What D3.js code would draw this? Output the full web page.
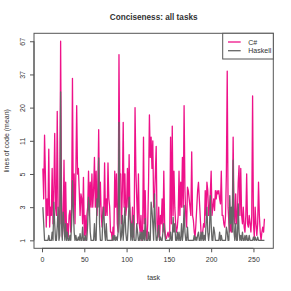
<!DOCTYPE html>
<html>
<head>
<meta charset="utf-8">
<script src="https://cdn.jsdelivr.net/npm/d3@7"></script>
<style>
  html, body { margin: 0; padding: 0; background: #fff; }
  svg { display: block; }
  text { font-family: "Liberation Sans", Arial, Helvetica, sans-serif; fill: #333; }
</style>
</head>
<body>
<svg id="chart" width="291" height="291"></svg>
<script>
// ---- data ----
const seriesNames = ["C#", "Haskell"];
const xTickValues = [0, 50, 100, 150, 200, 250];
const yTickValues = [1, 3, 5, 11, 20, 37, 67];

const csharp = [
  6, 3.5, 12.5, 5, 1.8, 3.5, 2.5, 9.5, 1.8, 3,
  2.5, 6, 2, 4, 13, 3, 2.5, 19, 3, 2.5,
  2, 67, 4, 1.2, 2, 7.5, 1.5, 4.5, 1.3, 2,
  1.2, 2.5, 2.8, 1.5, 3, 35, 3, 5, 2, 5,
  21, 5, 6, 4, 2.5, 3.8, 3.5, 2, 4.8, 1.3,
  2.5, 1, 2.5, 3, 5.5, 2.5, 4.5, 3, 5, 3,
  4, 8, 3, 5.5, 2.5, 4, 14, 3, 4.5, 2.5,
  1.8, 3, 2.5, 7, 2.5, 3.5, 2.5, 7, 3.5, 3,
  1.5, 1.5, 1, 1.8, 1.3, 5.5, 3, 5, 2, 1.5,
  55, 5, 5, 2, 4, 16, 3, 5, 2.5, 3,
  6, 3, 8.5, 2.5, 2, 1.5, 3, 1.2, 2, 20,
  5.5, 3.5, 2, 5, 2, 1.5, 2.5, 1, 1.5, 12,
  2, 4, 1.5, 1, 2, 4.5, 18, 8, 12, 6,
  11, 3, 3.5, 5, 10, 2, 1.2, 3, 1, 2.5,
  2, 3.5, 1.5, 5.5, 2, 1.2, 1.1, 1.3, 1.5, 1.2,
  1.3, 12, 2, 15, 2.5, 5.5, 3, 2, 1.5, 1.8,
  2.5, 5.5, 2.5, 4.5, 3, 8, 3, 21, 4, 2.5,
  1.8, 4.2, 4, 3.5, 3, 2.5, 9, 2.5, 2.2, 1.5,
  1.2, 2, 3, 4, 4.5, 3.5, 2.5, 1.5, 1.3, 1.5,
  2, 1.8, 4, 2.5, 4.5, 4, 2.5, 3, 3.8, 5.5,
  2.5, 3, 3.5, 2.8, 4, 3.5, 4, 3.8, 4, 3.5,
  3.2, 5.5, 2.5, 2.5, 2, 1.8, 2.5, 5, 40, 3,
  2, 1.5, 2, 1.5, 2.5, 12, 2.5, 2, 3.8, 2,
  2.5, 4.5, 6.5, 2.5, 6, 2.5, 2, 3, 1.8, 1.5,
  2.5, 5, 2, 1.8, 2.5, 2, 1.5, 2.5, 26, 2,
  1.2, 3, 2, 1.3, 2, 4.5, 2.5, 1.5, 1, 1.5,
  1.8, 1.5, 2.3
];

const haskell = [
  3, 2, 1, 1, 1, 1, 1, 1.3, 1, 1,
  1, 1.5, 1, 3.3, 2, 1, 1, 1.8, 3, 1,
  1.3, 28, 2, 1, 2.7, 2, 1, 2, 1, 1.5,
  1, 1, 1.3, 1, 2, 4.6, 3, 1.5, 1, 1.3,
  1, 1, 1.2, 1, 1.4, 1, 1, 1.8, 1, 1,
  1.3, 1, 1, 2, 3.6, 3, 1.5, 1, 1, 1,
  1, 2, 1, 1, 3.5, 3, 7.9, 2, 1, 1,
  1, 2.5, 3, 1.5, 1, 2, 1, 1, 1, 1,
  1, 1, 1, 1.3, 1, 1.3, 1, 1.2, 1, 1.5,
  16, 2, 1, 1.3, 2.5, 1, 2, 3, 1.5, 1,
  1, 2, 3.6, 2.7, 1, 2, 1, 2.5, 1, 1,
  1, 2, 1.5, 1, 1, 1.5, 1, 1.5, 1, 1.6,
  1, 2.3, 1, 1, 1, 1.5, 1, 1, 3.3, 2.8,
  2, 1, 3.8, 2, 1, 1, 1.5, 1.9, 1, 1.2,
  1, 1, 1.5, 2, 1.5, 1, 1, 1, 1, 1,
  1, 1.5, 1, 1, 2.4, 1.5, 2, 1, 1, 1.5,
  1, 1.5, 1, 1, 2, 1, 1.5, 3.1, 1.5, 1,
  1, 1.8, 1, 1, 1, 1, 1, 1, 1, 1.3,
  1, 1.2, 1, 1.3, 1.5, 1, 1, 1.5, 1, 1.5,
  1, 1.3, 1, 2, 3, 1.5, 1, 1.5, 3.7, 2,
  1, 1, 1.8, 1.5, 1, 1, 1, 1, 1, 1.5,
  1, 1.3, 1, 1, 1, 1, 1, 1.8, 1.5, 1,
  1, 3.7, 2, 3, 1.5, 7.5, 1.5, 1, 2, 1,
  1, 3.2, 1.5, 1, 1.3, 1, 1.5, 1, 1, 1.3,
  1, 1.3, 1, 1, 1.3, 1, 1, 1, 1, 1.2,
  1, 1.2, 1, 1, 1.2, 1, 1, 1, 1, 1,
  1, 1, 1
];

const colors = ["#EE1289", "#666666"];

// ---- layout ----
const svg = d3.select("#chart");
const plot = { left: 34, right: 273.3, top: 33.3, bottom: 248.3 };
const nTasks = csharp.length;
const xPad = (nTasks - 1) * 0.04;

const x = d3.scaleLinear()
  .domain([1 - xPad, nTasks + xPad])
  .range([plot.left, plot.right]);

// equally spaced tick labels on the y axis (piecewise scale through the tick values)
const tickPos = d3.scaleLinear()
  .domain([-0.24, yTickValues.length - 1 + 0.24])
  .range([plot.bottom, plot.top]);
const y = d3.scaleLinear()
  .domain(yTickValues)
  .range(yTickValues.map((d, i) => tickPos(i)));

// ---- lines ----
const line = d3.line()
  .x((d, i) => x(i + 1))
  .y(d => y(d));

[csharp, haskell].forEach((s, k) => {
  svg.append("path")
    .datum(s)
    .attr("fill", "none")
    .attr("stroke", colors[k])
    .attr("stroke-width", 1.3)
    .attr("stroke-linejoin", "round")
    .attr("d", line);
});

// ---- box ----
svg.append("rect")
  .attr("x", plot.left).attr("y", plot.top)
  .attr("width", plot.right - plot.left).attr("height", plot.bottom - plot.top)
  .attr("fill", "none").attr("stroke", "#555").attr("stroke-width", 1);

// ---- x axis ----
const xAxis = svg.append("g")
  .attr("transform", `translate(0,${plot.bottom})`)
  .call(d3.axisBottom(x).tickValues(xTickValues).tickSize(4).tickPadding(4.5).tickFormat(d3.format("d")));
xAxis.select(".domain").remove();
xAxis.append("line")
  .attr("x1", x(xTickValues[0])).attr("x2", x(xTickValues[xTickValues.length - 1]))
  .attr("y1", 0).attr("y2", 0).attr("stroke", "#555");
xAxis.selectAll(".tick line").attr("stroke", "#555");
xAxis.selectAll("text").style("font-size", "7px").attr("fill", "#333")
  .style("font-family", "'Liberation Sans', Arial, Helvetica, sans-serif");

// ---- y axis ----
const yAxis = svg.append("g")
  .attr("transform", `translate(${plot.left},0)`)
  .call(d3.axisLeft(y).tickValues(yTickValues).tickSize(4).tickFormat(d3.format("d")));
yAxis.select(".domain").remove();
yAxis.append("line")
  .attr("x1", 0).attr("x2", 0)
  .attr("y1", y(yTickValues[0])).attr("y2", y(yTickValues[yTickValues.length - 1]))
  .attr("stroke", "#555");
yAxis.selectAll(".tick line").attr("stroke", "#555");
yAxis.selectAll("text")
  .attr("x", 0).attr("y", -9.4).attr("dy", null)
  .attr("text-anchor", "middle")
  .attr("transform", "rotate(-90)")
  .attr("fill", "#333")
  .style("font-size", "7px")
  .style("font-family", "'Liberation Sans', Arial, Helvetica, sans-serif");

// ---- titles ----
const cx = (plot.left + plot.right) / 2;
svg.append("text")
  .attr("x", cx).attr("y", 19.6)
  .attr("text-anchor", "middle")
  .style("font-size", "8.2px").style("font-weight", "bold")
  .attr("fill", "#222")
  .text("Conciseness: all tasks");

svg.append("text")
  .attr("x", cx).attr("y", 279.8)
  .attr("text-anchor", "middle")
  .style("font-size", "7px")
  .text("task");

svg.append("text")
  .attr("transform", `translate(9.2,${(plot.top + plot.bottom) / 2}) rotate(-90)`)
  .attr("text-anchor", "middle")
  .style("font-size", "7px")
  .text("lines of code (mean)");

// ---- legend ----
const lg = svg.append("g");
lg.append("rect")
  .attr("x", 222.7).attr("y", plot.top)
  .attr("width", plot.right - 222.7).attr("height", 59 - plot.top)
  .attr("fill", "#fff").attr("stroke", "#555").attr("stroke-width", 1);
seriesNames.forEach((name, i) => {
  const ly = 42 + i * 8.7;
  lg.append("line")
    .attr("x1", 228).attr("x2", 240.7)
    .attr("y1", ly).attr("y2", ly)
    .attr("stroke", colors[i]).attr("stroke-width", 1.3);
  lg.append("text")
    .attr("x", 248.3).attr("y", ly + 2.5)
    .style("font-size", "7px")
    .text(name);
});
</script>
</body>
</html>
